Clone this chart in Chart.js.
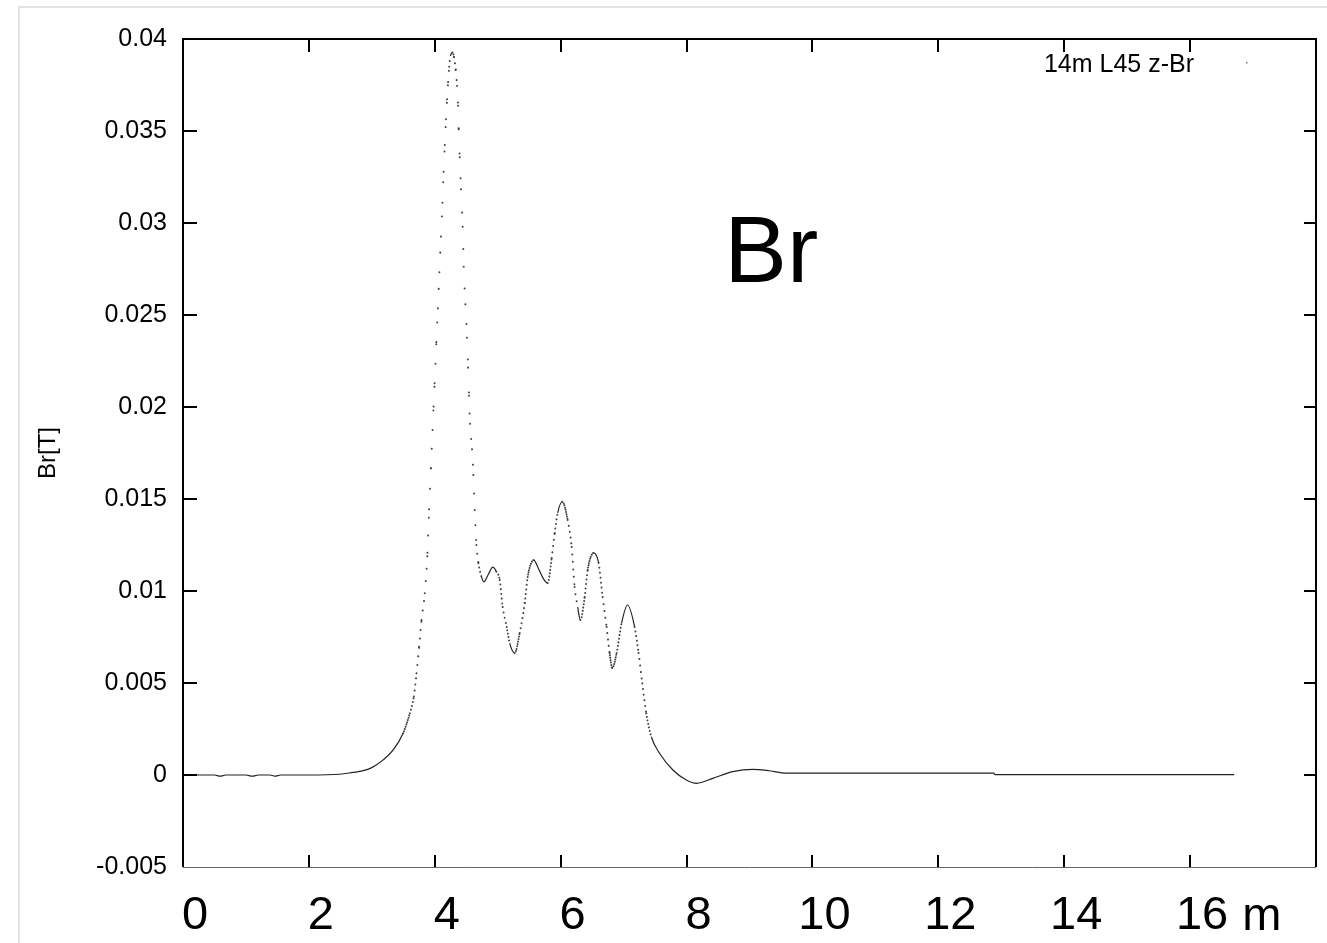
<!DOCTYPE html>
<html>
<head>
<meta charset="utf-8">
<title>Br</title>
<script src="https://cdn.jsdelivr.net/npm/chart.js@4.4.1/dist/chart.umd.min.js"></script>
<style>
  body { margin: 0; background: #fff; }
  #wrap { position: relative; width: 1327px; height: 943px; }
  #edge { position: absolute; left: 18px; top: 6px; right: 0; bottom: 0;
          border-top: 2px solid #e3e3e3; border-left: 2px solid #e3e3e3; }
  canvas { position: absolute; left: 0; top: 0; }
</style>
</head>
<body>
<div id="wrap">
  <div id="edge"></div>
  <canvas id="brChart" width="1327" height="943"></canvas>
</div>
<script>
// z position along the magnet [m]
const zValues = [
  0, 0.5, 0.59, 0.68, 1.0, 1.1, 1.2, 1.38, 1.46, 1.55, 2.0, 2.49, 2.7, 2.85, 3.0, 3.18, 3.34,
  3.497, 3.603, 3.667, 3.71, 3.751, 3.789, 3.841, 3.884, 3.91, 3.938, 3.965, 3.981, 3.997,
  4.025, 4.049, 4.073, 4.098, 4.122, 4.14, 4.159, 4.178, 4.195, 4.211, 4.229, 4.248, 4.281,
  4.306, 4.333, 4.354, 4.37, 4.381, 4.397, 4.417, 4.444, 4.46, 4.487, 4.513, 4.529, 4.544,
  4.56, 4.592, 4.614, 4.635, 4.662, 4.694, 4.741, 4.778, 4.85, 4.921, 4.98, 5.032, 5.079,
  5.143, 5.19, 5.27, 5.349, 5.429, 5.476, 5.571, 5.65, 5.72, 5.794, 5.857, 5.905, 5.952,
  6.027, 6.111, 6.175, 6.222, 6.27, 6.313, 6.381, 6.429, 6.524, 6.603, 6.667, 6.73, 6.778,
  6.821, 6.889, 6.968, 7.063, 7.175, 7.238, 7.297, 7.36, 7.44, 7.571, 7.783, 7.995, 8.163,
  8.417, 8.735, 9.052, 9.317, 9.583, 10.5, 12.88, 12.9, 16.7
];
// radial field Br [T]
const brValues = [
  0, 0, -0.00006, 0, 0, -0.00006, 0, 0, -0.00006, 0, 0, 0.00004, 0.00014, 0.00022, 0.0004,
  0.00082, 0.00136,
  0.00227, 0.00335, 0.00426, 0.00553, 0.00697, 0.00842, 0.00988, 0.01208, 0.01444, 0.01667,
  0.01875, 0.02002, 0.02129,
  0.02353, 0.02536, 0.02732, 0.02926, 0.0311, 0.03279, 0.03424, 0.03564, 0.03672, 0.03766,
  0.03849, 0.03908, 0.03926,
  0.03901, 0.03832, 0.03745, 0.03637, 0.03509, 0.03357, 0.03183, 0.0298, 0.02762, 0.02558,
  0.02377, 0.02214, 0.02061,
  0.01909, 0.0177, 0.0163, 0.0144, 0.0125, 0.01151, 0.01078, 0.0105, 0.0109, 0.0113, 0.01105,
  0.0106, 0.00913,
  0.00804, 0.00717, 0.00663, 0.00772, 0.00935, 0.01076, 0.01168, 0.0112, 0.0107, 0.01043,
  0.01179, 0.01315, 0.01424,
  0.01485, 0.01386, 0.01239, 0.01022, 0.00913, 0.00842, 0.00967, 0.01114, 0.01207, 0.01152,
  0.00967, 0.00804, 0.00663,
  0.00582, 0.00663, 0.00826, 0.00924, 0.00804, 0.00663, 0.00498, 0.00335, 0.00208, 0.00118,
  0.00027, -0.00027, -0.00045,
  -0.00018, 0.00018, 0.00031, 0.00023, 0.0001, 0.0001, 0.0001, 0.00002, 0.00002
];

const xTickLabels = ["0", "2", "4", "6", "8", "10", "12", "14", "16"];
const xUnit = "m";
const yTickLabels = ["-0.005", "0", "0.005", "0.01", "0.015", "0.02", "0.025", "0.03", "0.035", "0.04"];
const seriesName = "14m L45 z-Br";
const plotTitle = "Br";

const FONT = '"Liberation Sans", Arial, Helvetica, sans-serif';

const points = zValues.map((z, i) => ({ x: z, y: brValues[i] }));

// gnuplot "with dots": dots spread out where the curve is steep
function dotStep(ctx) {
  const meta = ctx.chart.getDatasetMeta(0).data;
  const a = meta[Math.max(0, ctx.p0DataIndex - 1)];
  const b = meta[Math.min(meta.length - 1, ctx.p1DataIndex + 1)];
  const dx = Math.abs(b.x - a.x) || 0.01;
  const s = Math.abs(b.y - a.y) / dx;
  return 0.85 * Math.sqrt(1 + s * s);
}

const framePlugin = {
  id: "frame",
  afterDatasetsDraw(chart) {
    const { ctx, chartArea: a, scales } = chart;
    const x = scales.x, y = scales.y;
    ctx.save();
    ctx.strokeStyle = "#000";
    ctx.lineWidth = 2;
    ctx.beginPath();
    x.ticks.forEach(t => {
      if (t.value <= x.min || t.value >= x.max) return;
      const px = Math.round(x.getPixelForValue(t.value));
      ctx.moveTo(px, a.bottom); ctx.lineTo(px, a.bottom - 12);
      ctx.moveTo(px, a.top); ctx.lineTo(px, a.top + 13);
    });
    y.ticks.forEach(t => {
      if (t.value <= y.min + 1e-9 || t.value >= y.max - 1e-9) return;
      const py = Math.round(y.getPixelForValue(t.value));
      ctx.moveTo(a.left, py); ctx.lineTo(a.left + 14, py);
      ctx.moveTo(a.right, py); ctx.lineTo(a.right - 12, py);
    });
    ctx.stroke();
    ctx.beginPath();
    ctx.moveTo(a.left, a.bottom);
    ctx.lineTo(a.left, a.top);
    ctx.lineTo(a.right, a.top);
    ctx.lineTo(a.right, a.bottom);
    ctx.stroke();
    ctx.strokeStyle = "#666";
    ctx.lineWidth = 1;
    ctx.beginPath();
    ctx.moveTo(a.left, a.bottom + 0.5);
    ctx.lineTo(a.right, a.bottom + 0.5);
    ctx.stroke();
    ctx.restore();
  },
  afterDraw(chart) {
    const { ctx, chartArea: a, scales } = chart;
    ctx.save();
    ctx.fillStyle = "#000";
    // key
    ctx.font = "25px " + FONT;
    ctx.textAlign = "right";
    ctx.textBaseline = "alphabetic";
    ctx.fillText(chart.data.datasets[0].label, a.right - 122, a.top + 33);
    ctx.fillStyle = "#777";
    ctx.fillRect(a.right - 70, a.top + 23, 1.5, 1.5);
    // big label
    ctx.fillStyle = "#000";
    ctx.font = "94px " + FONT;
    ctx.textAlign = "left";
    ctx.fillText(plotTitle, scales.x.getPixelForValue(8.6), scales.y.getPixelForValue(0.0268));
    // unit after the last x label
    ctx.font = "47px " + FONT;
    const last = xTickLabels[xTickLabels.length - 1];
    const cx = scales.x.getPixelForValue(16) + 12;
    ctx.fillText(xUnit, cx + ctx.measureText(last).width / 2 + 14, a.bottom + 63);
    ctx.restore();
  }
};

const chart = new Chart(document.getElementById("brChart").getContext("2d"), {
  type: "line",
  data: {
    datasets: [{
      label: seriesName,
      data: points,
      borderColor: "#222",
      borderWidth: 1.2,
      pointRadius: 0,
      cubicInterpolationMode: "monotone",
      segment: {
        borderDash: ctx => {
          const step = dotStep(ctx);
          return step > 2.2 ? [0.01, step] : undefined;
        },
        borderCapStyle: ctx => (dotStep(ctx) > 2.2 ? "round" : "butt"),
        borderWidth: ctx => (dotStep(ctx) > 2.2 ? 2 : 1.2),
        borderColor: ctx => (dotStep(ctx) > 2.2 ? "#444" : "#222"),
      },
    }],
  },
  options: {
    responsive: false,
    animation: false,
    layout: { padding: { left: 0, top: 39, right: 11, bottom: 0 } },
    plugins: {
      legend: { display: false },
      tooltip: { enabled: false },
    },
    scales: {
      x: {
        type: "linear",
        min: 0,
        max: 18,
        grid: { display: false, drawTicks: false },
        border: { display: false },
        ticks: {
          stepSize: 2,
          autoSkip: false,
          maxRotation: 0,
          padding: 21,
          labelOffset: 12,
          color: "#000",
          font: { family: FONT, size: 47 },
          callback: (v, i) => xTickLabels[i] ?? "",
        },
        afterFit: scale => {
          scale.height = 76;
          scale.paddingLeft = 0;
          scale.paddingRight = 0;
        },
      },
      y: {
        min: -0.005,
        max: 0.04,
        grid: { display: false, drawTicks: false },
        border: { display: false },
        ticks: {
          stepSize: 0.005,
          padding: 16,
          color: "#000",
          font: { family: FONT, size: 25 },
          callback: (v, i) => yTickLabels[i] ?? "",
        },
        title: {
          display: true,
          text: "Br[T]",
          color: "#000",
          font: { family: FONT, size: 24 },
          padding: { top: 34, bottom: 0 },
        },
        afterFit: scale => { scale.width = 183; },
      },
    },
  },
  plugins: [framePlugin],
});
</script>
</body>
</html>
